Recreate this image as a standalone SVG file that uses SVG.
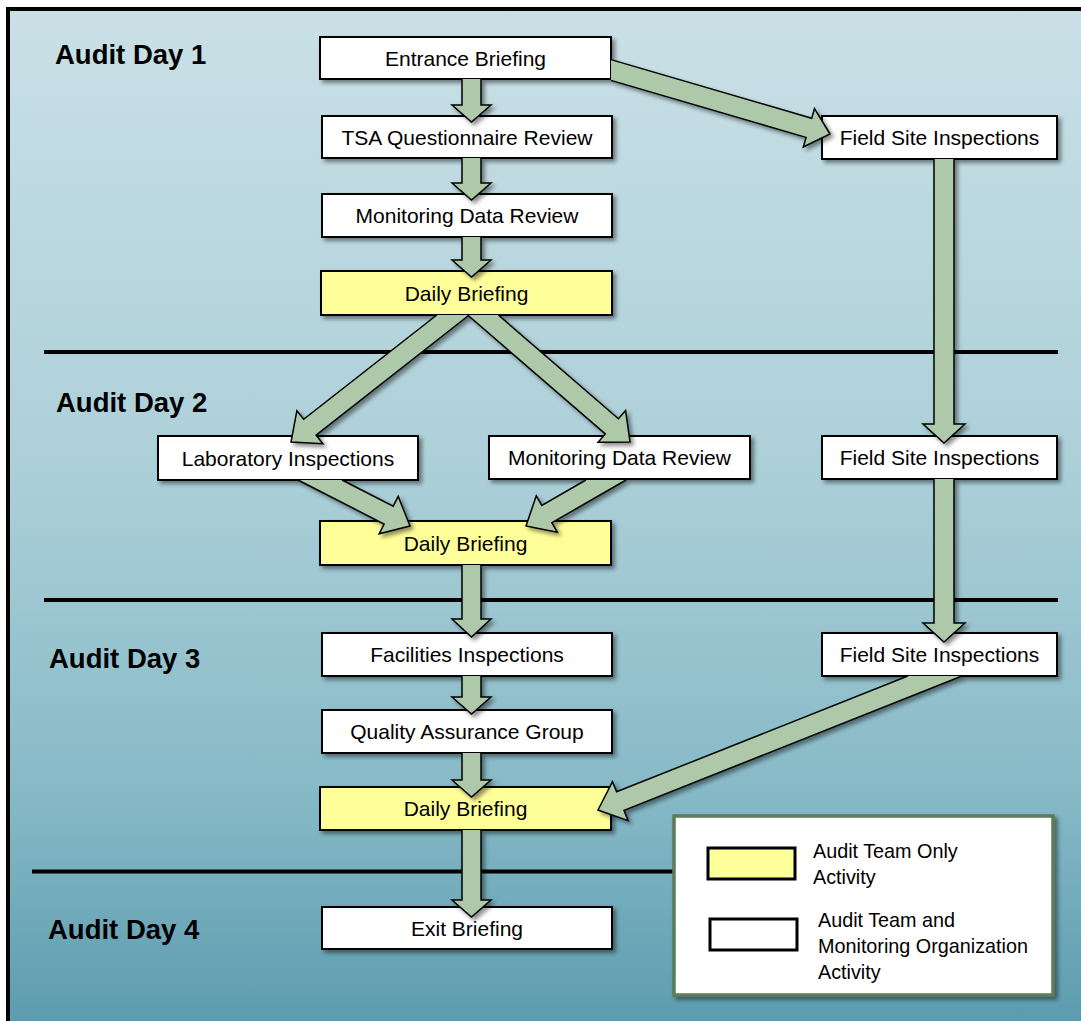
<svg xmlns="http://www.w3.org/2000/svg" width="1081" height="1021" viewBox="0 0 1081 1021">
<defs>
<linearGradient id="bg" x1="0" y1="0" x2="0" y2="1">
<stop offset="0" stop-color="#cae0e6"/>
<stop offset="0.45" stop-color="#abcfd8"/>
<stop offset="0.75" stop-color="#86b9c6"/>
<stop offset="1" stop-color="#5597ab"/>
</linearGradient>
<filter id="sh" x="-20%" y="-20%" width="140%" height="160%">
<feDropShadow dx="3" dy="3" stdDeviation="2" flood-color="#000" flood-opacity="0.45"/>
</filter>
<style>
.box{fill:#fff;stroke:#000;stroke-width:2;filter:url(#sh)}
.yel{fill:#ffff99}
.lbl{font-family:"Liberation Sans",Arial,sans-serif;font-size:21px;fill:#000;text-anchor:middle}
.day{font-family:"Liberation Sans",Arial,sans-serif;font-size:27.5px;font-weight:bold;fill:#000}
.sep{stroke:#000;stroke-width:4}
.arr{fill:#adc9aa;stroke:#000;stroke-width:1.5;stroke-linejoin:miter;filter:url(#sh)}
.leg{font-family:"Liberation Sans",Arial,sans-serif;font-size:19.8px;fill:#000}
</style>
</defs>
<rect x="0" y="0" width="1081" height="1021" fill="#fff"/>
<rect x="8" y="9" width="1100" height="1050" fill="url(#bg)" stroke="#000" stroke-width="4"/>
<g id="separators">
<line class="sep" x1="44" y1="352" x2="1058" y2="352"/>
<line class="sep" x1="44" y1="600" x2="1058" y2="600"/>
<line class="sep" x1="32" y1="871.5" x2="676" y2="871.5"/>
</g>
<g id="day-labels">
<text class="day" x="55" y="63.5">Audit Day 1</text>
<text class="day" x="56" y="412">Audit Day 2</text>
<text class="day" x="49" y="668">Audit Day 3</text>
<text class="day" x="48" y="938.5">Audit Day 4</text>
</g>
<g id="n-entrance"><rect class="box" x="320" y="37" width="291" height="42"/><text class="lbl" x="465.5" y="65.5">Entrance Briefing</text></g>
<g id="n-tsa"><rect class="box" x="322" y="116" width="290" height="42"/><text class="lbl" x="467" y="144.5">TSA Questionnaire Review</text></g>
<g id="n-mdr1"><rect class="box" x="322" y="194" width="290" height="43"/><text class="lbl" x="467" y="223">Monitoring Data Review</text></g>
<g id="n-daily1"><rect class="box yel" x="321" y="271" width="291" height="44"/><text class="lbl" x="466.5" y="300.5">Daily Briefing</text></g>
<g id="n-field1"><rect class="box" x="822" y="116" width="235" height="43"/><text class="lbl" x="939.5" y="145">Field Site Inspections</text></g>
<g id="n-lab"><rect class="box" x="158" y="436" width="260" height="44"/><text class="lbl" x="288" y="465.5">Laboratory Inspections</text></g>
<g id="n-mdr2"><rect class="box" x="489" y="436" width="261" height="43"/><text class="lbl" x="619.5" y="465">Monitoring Data Review</text></g>
<g id="n-field2"><rect class="box" x="822" y="436" width="235" height="43"/><text class="lbl" x="939.5" y="465">Field Site Inspections</text></g>
<g id="n-daily2"><rect class="box yel" x="320" y="521" width="291" height="44"/><text class="lbl" x="465.5" y="550.5">Daily Briefing</text></g>
<g id="n-facilities"><rect class="box" x="322" y="633" width="290" height="43"/><text class="lbl" x="467" y="662">Facilities Inspections</text></g>
<g id="n-field3"><rect class="box" x="822" y="633" width="235" height="43"/><text class="lbl" x="939.5" y="662">Field Site Inspections</text></g>
<g id="n-qa"><rect class="box" x="322" y="710" width="290" height="43"/><text class="lbl" x="467" y="739">Quality Assurance Group</text></g>
<g id="n-daily3"><rect class="box yel" x="320" y="787" width="291" height="43"/><text class="lbl" x="465.5" y="816">Daily Briefing</text></g>
<g id="n-exit"><rect class="box" x="322" y="907" width="290" height="42"/><text class="lbl" x="467" y="935.5">Exit Briefing</text></g>
<g id="connectors">
<path class="arr" d="M462,79 L462,105 L452,105 L471.5,122 L491,105 L481,105 L481,79"/>
<path class="arr" d="M462,158 L462,183 L452,183 L471.5,200 L491,183 L481,183 L481,158"/>
<path class="arr" d="M462,237 L462,260 L452,260 L471.5,277 L491,260 L481,260 L481,237"/>
<path class="arr" d="M462,565 L462,619 L452,619 L471.5,637 L491,619 L481,619 L481,565"/>
<path class="arr" d="M462,676 L462,697 L452,697 L471.5,714 L491,697 L481,697 L481,676"/>
<path class="arr" d="M462,753 L462,780 L452,780 L471.5,797 L491,780 L481,780 L481,753"/>
<path class="arr" d="M462,830 L462,900 L452,900 L471.5,917 L491,900 L481,900 L481,830"/>
<path class="arr" d="M934,159 L934,424 L923,424 L944,443 L965,424 L954,424 L954,159"/>
<path class="arr" d="M934,479 L934,623 L923,623 L944,642 L965,623 L954,623 L954,479"/>
<path class="arr" d="M611,80.4 L806.1,137.4 L803.3,147 L830,134 L814.5,108.6 L811.7,118.2 L611,59.6"/>
<path class="arr" d="M469.2,315 L316.1,435.1 L322.9,443.7 L291,442 L296.9,410.7 L303.7,419.3 L436.8,315"/>
<path class="arr" d="M498.3,315 L618.4,418.8 L625.6,410.4 L630,442 L598.1,442.2 L605.3,433.9 L467.7,315"/>
<path class="arr" d="M342,480 L393.2,506.2 L398.2,496.4 L410,526 L379.1,533.8 L384.1,524 L298,480"/>
<path class="arr" d="M626.1,480 L551.8,522.7 L557.3,532.2 L526,526 L536.3,495.8 L541.8,505.4 L585.9,480"/>
<path class="arr" d="M962,676 L624,810.4 L628.1,820.6 L598,810 L612.5,781.6 L616.6,791.8 L907.9,676"/>
</g>
<g id="legend">
<rect x="674" y="816" width="379" height="179" fill="#fff" stroke="#5b7b58" stroke-width="3.5" filter="url(#sh)"/>
<rect x="708" y="848" width="87" height="31" fill="#ffff99" stroke="#000" stroke-width="3"/>
<rect x="710" y="919" width="87" height="31" fill="#fff" stroke="#000" stroke-width="3"/>
<text class="leg" x="813" y="858">Audit Team Only</text>
<text class="leg" x="813" y="884">Activity</text>
<text class="leg" x="818" y="926.5">Audit Team and</text>
<text class="leg" x="818" y="953">Monitoring Organization</text>
<text class="leg" x="818" y="979">Activity</text>
</g>
</svg>
